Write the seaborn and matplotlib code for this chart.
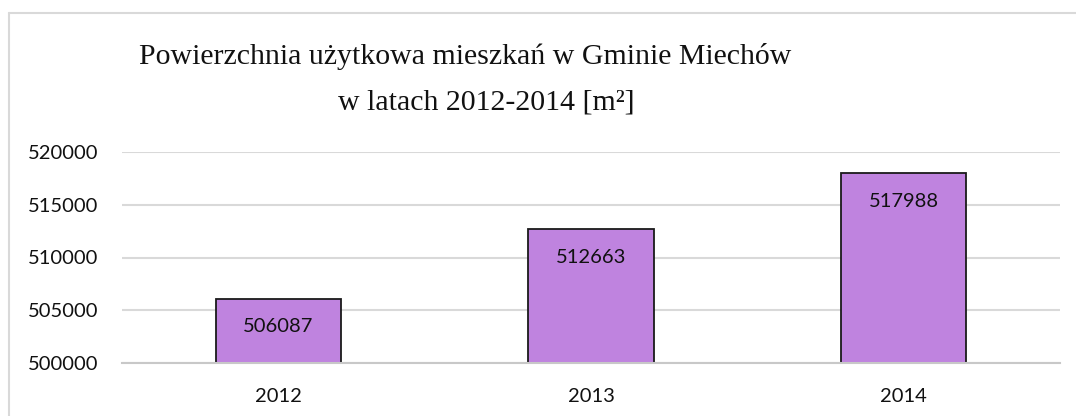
import matplotlib
matplotlib.use("Agg")
import matplotlib.pyplot as plt
import seaborn as sns
import pandas as pd
from matplotlib.lines import Line2D

years = ["2012", "2013", "2014"]
values = [506087, 512663, 517988]
yticks = [500000, 505000, 510000, 515000, 520000]
title_line1 = "Powierzchnia użytkowa mieszkań w Gminie Miechów"
title_line2 = "w latach 2012-2014 [m²]"

sns.set_theme(style="white")
plt.rcParams['font.family'] = ['Lato', 'DejaVu Sans']

W, H = 1076, 416
fig = plt.figure(figsize=(W / 100, H / 100), dpi=100)
ax = fig.add_axes([122 / W, 53 / H, (1060 - 122) / W, 211 / H])

df = pd.DataFrame({"year": years, "value": values})
sns.barplot(data=df, x="year", y="value", ax=ax, color="#BF83DF",
            saturation=1, width=0.4, edgecolor="#1a1a1a", linewidth=1.3,
            zorder=3)

ax.set_ylim(500000, 520000)
ax.set_yticks(yticks)
ax.set_yticklabels([str(v) for v in yticks])
ax.set_xlabel("")
ax.set_ylabel("")
ax.grid(axis="y", color="#D9D9D9", linewidth=1.5, zorder=0)
ax.grid(axis="x", visible=False)
for s in ["top", "right", "left"]:
    ax.spines[s].set_visible(False)
ax.spines["bottom"].set_color("#C8C8C8")
ax.spines["bottom"].set_linewidth(1.5)
ax.spines["bottom"].set_zorder(4)
ax.tick_params(axis="both", length=0, labelsize=14.5, colors="#111111")
ax.tick_params(axis="y", pad=17)
ax.tick_params(axis="x", pad=18)

for p, v in zip(ax.patches, values):
    x = p.get_x() + p.get_width() / 2
    ax.annotate(str(v), (x, p.get_height() + p.get_y()), xytext=(0, -20),
                textcoords="offset points", ha="center", va="center",
                fontsize=14.5, color="#111111", zorder=5)

serif = ['Liberation Serif', 'DejaVu Serif']
fig.text(465 / W, 1 - 57 / H, title_line1, ha="center", va="center",
         fontsize=21.5, family=serif, color="#111111")
fig.text(486 / W, 1 - 102 / H, title_line2, ha="center", va="center",
         fontsize=21.5, family=serif, color="#111111")

fig.add_artist(Line2D([8.5 / W, 1], [1 - 13 / H, 1 - 13 / H],
                      transform=fig.transFigure, color="#D9D9D9", linewidth=1.5))
fig.add_artist(Line2D([8.5 / W, 8.5 / W], [0, 1 - 13 / H],
                      transform=fig.transFigure, color="#D9D9D9", linewidth=1.5))

fig.savefig("out.png", dpi=100, facecolor="white")
